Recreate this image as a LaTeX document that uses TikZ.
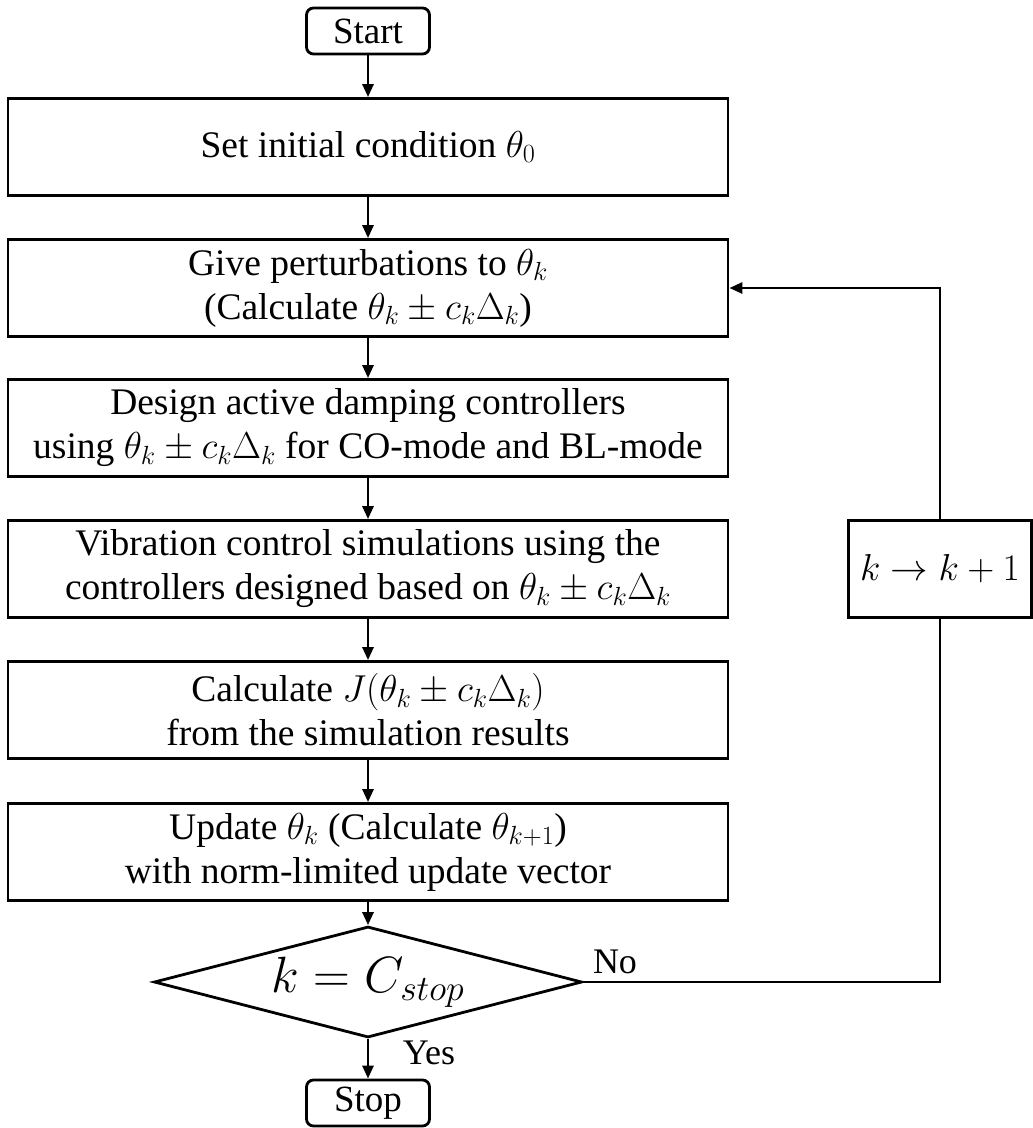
\RequirePackage{fix-cm}
\documentclass[tikz,border=0pt]{standalone}
\usepackage{amsmath, amssymb}
\usepackage{fontspec}
\setmainfont{Liberation Serif}
\usepackage{tikz}
\usetikzlibrary{shapes.geometric}
\usetikzlibrary{arrows.meta}
\tikzset{blk/.style = {draw, line width = 2.8, minimum width = 720, minimum height = 97, inner sep = 0, align = center, font = \fontsize{37.5}{44}\selectfont}}
\tikzset{term/.style = {draw, rounded corners = 7, line width = 2.8, minimum width = 123, minimum height = 46, inner sep = 0, font = \fontsize{37}{41}\selectfont}}
\tikzset{dec/.style = {draw, diamond, aspect = 3.86, line width = 2.8, minimum width = 428, minimum height = 111, inner sep = 0, font = \fontsize{51}{55}\selectfont}}
\tikzset{lbl/.style = {inner sep = 0, font = \fontsize{36}{40}\selectfont}}
\tikzset{arr/.style = {line width = 2.8, -{Triangle[length = 13pt, width = 11pt]}}}

\begin{document}
\begin{tikzpicture}[x = 1pt, y = -1pt]
    \useasboundingbox (0, 0) rectangle (1033, 1128);

    \node [term] (start) at (368, 31) {Start};
    \node [blk] (b1) at (368, 147) {Set initial condition $\theta_0$};
    \node [blk] (b2) at (368, 288) {Give perturbations to $\theta_k$\\(Calculate $\theta_k \pm c_k\Delta_k$)};
    \node [blk] (b3) at (368, 428) {Design active damping controllers\\using $\theta_k \pm c_k\Delta_k$ for CO-mode and BL-mode};
    \node [blk] (b4) at (368, 569) {Vibration control simulations using the\\controllers designed based on $\theta_k \pm c_k\Delta_k$};
    \node [blk] (b5) at (368, 710) {Calculate $J(\theta_k \pm c_k\Delta_k)$\\from the simulation results};
    \node [blk] (b6) at (368, 852) {Update $\theta_k$ (Calculate $\theta_{k+1}$)\\with norm-limited update vector};
    \node [dec] (stopq) at (368, 982) {$k = C_{stop}$};
    \node [term] (stop) at (368, 1103) {Stop};
    \node [blk, minimum width = 183] (inc) at (940, 569) {$k \to k + 1$};

    \foreach \a/\b in {start/b1, b1/b2, b2/b3, b3/b4, b4/b5, b5/b6, b6/stopq, stopq/stop} {
      \draw [arr] (\a) -- (\b);
    }

    % loop back
    \draw [line width = 2.8] (stopq.east) -| (inc.south);
    \draw [arr] (inc.north) |- (b2.east);

    \node [lbl] (no) at (615, 962) {No};
    \node [lbl] (yes) at (429, 1053) {Yes};
  \end{tikzpicture}
\end{document}
